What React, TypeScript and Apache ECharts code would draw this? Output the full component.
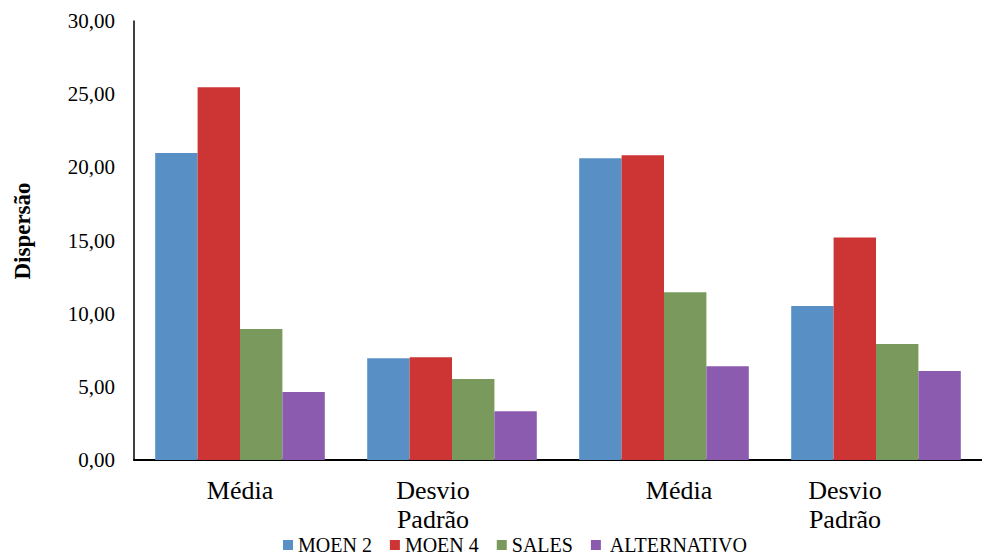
import React, { useEffect, useRef } from "react";
import * as echarts from "echarts";

const categories = ["Média", "Desvio\nPadrão", "Média", "Desvio\nPadrão"];
const moen2 = [20.98, 6.95, 20.62, 10.53];
const moen4 = [25.47, 7.02, 20.83, 15.2];
const sales = [8.95, 5.54, 11.46, 7.93];
const alternativo = [4.65, 3.33, 6.4, 6.08];
const seriesNames = ["MOEN 2", "MOEN 4", "SALES", "ALTERNATIVO"];
const colors = ["#5890C5", "#CD3434", "#7A9A5D", "#8B5BB0"];

const FONT = "Times New Roman";

// per-category horizontal nudge of the category labels
const labelStyles = ["m1", "d1", "m2", "d2"];

export default function App() {
  const ref = useRef<HTMLDivElement>(null);

  useEffect(() => {
    document.body.style.margin = "0";
    if (!ref.current) return;
    const chart = echarts.init(ref.current, undefined, { renderer: "svg" });
    const values = [moen2, moen4, sales, alternativo];

    chart.setOption({
      animation: false,
      backgroundColor: "#ffffff",
      textStyle: { fontFamily: FONT },
      grid: { left: 134, top: 21, width: 859, height: 439, containLabel: false },
      legend: {
        left: 278,
        top: 530,
        itemWidth: 10,
        itemHeight: 10,
        itemGap: 18,
        icon: "rect",
        formatter: (name: string) => (name === "ALTERNATIVO" ? " " + name : name),
        textStyle: { fontFamily: FONT, fontSize: 20, color: "#000" },
        data: seriesNames,
      },
      graphic: [
        {
          type: "text",
          x: 22,
          y: 231,
          rotation: Math.PI / 2,
          style: {
            text: "Dispersão",
            fontFamily: FONT,
            fontSize: 23,
            fontWeight: "bold",
            fill: "#000",
            align: "center",
            verticalAlign: "middle",
          },
        },
      ],
      xAxis: {
        type: "category",
        data: categories,
        axisLine: { lineStyle: { color: "#000", width: 2 } },
        axisTick: { show: false },
        axisLabel: {
          margin: 16,
          interval: 0,
          color: "#000",
          fontFamily: FONT,
          fontSize: 26,
          lineHeight: 29,
          formatter: (v: string, i: number) =>
            v
              .split("\n")
              .map((line) => `{${labelStyles[i]}|${line}}`)
              .join("\n"),
          rich: {
            m1: { fontFamily: FONT, fontSize: 26, lineHeight: 29, color: "#000" },
            d1: { fontFamily: FONT, fontSize: 26, lineHeight: 29, color: "#000", padding: [0, 38, 0, 0] },
            m2: { fontFamily: FONT, fontSize: 26, lineHeight: 29, color: "#000", padding: [0, 0, 0, 30] },
            d2: { fontFamily: FONT, fontSize: 26, lineHeight: 29, color: "#000", padding: [0, 62, 0, 0] },
          },
        },
      },
      yAxis: {
        type: "value",
        min: 0,
        max: 30,
        interval: 5,
        axisLine: { show: true, lineStyle: { color: "#000", width: 1.5 } },
        axisTick: { show: false },
        splitLine: { show: false },
        axisLabel: {
          margin: 19,
          color: "#000",
          fontFamily: FONT,
          fontSize: 21,
          formatter: (v: number) => v.toFixed(2).replace(".", ","),
        },
      },
      series: seriesNames.map((name, i) => ({
        name,
        type: "bar",
        data: values[i],
        barGap: "0%",
        barCategoryGap: "20%",
        itemStyle: { color: colors[i] },
      })),
    });

    return () => chart.dispose();
  }, []);

  return <div ref={ref} style={{ width: 982, height: 555 }} />;
}
